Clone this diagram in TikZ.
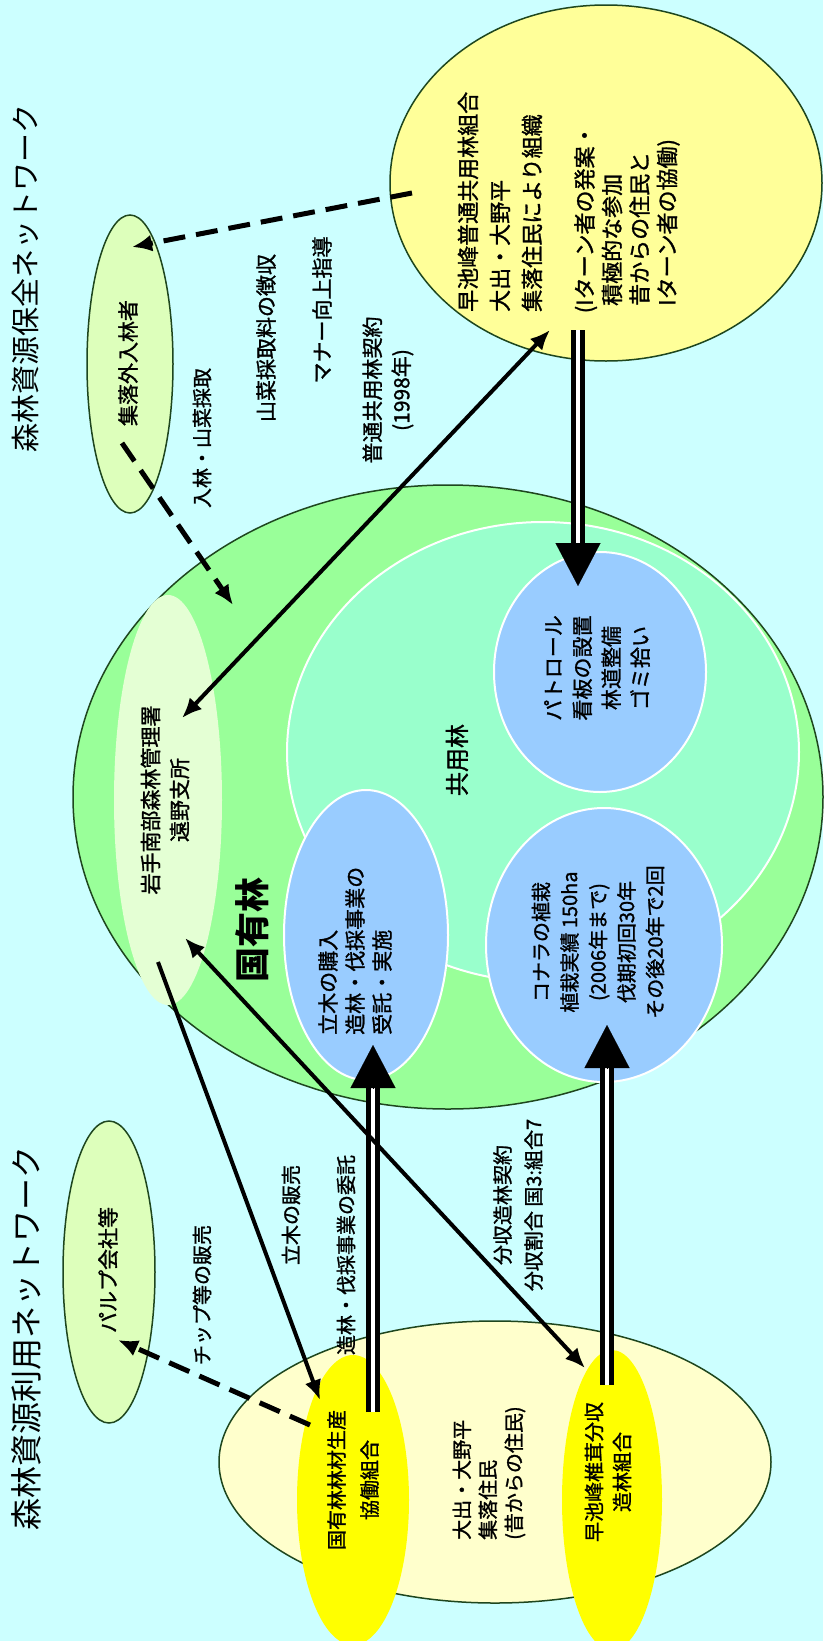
\documentclass[tikz,border=0pt]{standalone}
\usepackage{fontspec}
\newfontfamily\jp[FakeBold=1.3]{Noto Sans CJK JP}
\newfontfamily\jpt{Noto Sans CJK JP}
\usetikzlibrary{shapes.geometric,arrows.meta}
\definecolor{bgc}{RGB}{204,255,255}
\definecolor{kokuc}{RGB}{153,255,153}
\definecolor{iwatec}{RGB}{228,255,212}
\definecolor{aquac}{RGB}{153,255,204}
\definecolor{bluec}{RGB}{153,204,255}
\definecolor{yelc}{RGB}{255,255,153}
\definecolor{palegc}{RGB}{221,255,187}
\definecolor{creamc}{RGB}{255,255,204}
\definecolor{brightyc}{RGB}{255,255,0}
\definecolor{edgec}{RGB}{30,70,30}
\begin{document}
\begin{tikzpicture}[x=1pt,y=-1pt,
  blob/.style={ellipse, inner sep=0pt, outer sep=0pt},
  rim/.style={draw=edgec, line width=1.5pt},
  wrim/.style={draw=white, line width=2pt},
  txt/.style={rotate=90, inner sep=0pt, text=black, font=\jp\fontsize{21}{29}\selectfont, align=center},
  small/.style={font=\jp\fontsize{20}{28}\selectfont},
  solidarrow/.style={line width=4pt, -{Latex[length=20pt,width=17pt]}},
  bothway/.style={line width=4pt, {Latex[length=20pt,width=17pt]}-{Latex[length=20pt,width=17pt]}},
  dasharrow/.style={line width=5pt, dash pattern=on 22pt off 11pt, -{Latex[length=20pt,width=17pt]}},
  doubleline/.style={line width=5pt, double=white, double distance=4pt},
  bighead/.style={line width=0.1pt, -{Triangle[length=43pt,width=45pt]}}
]
\fill[bgc] (0,0) rectangle (823,1641);
\useasboundingbox (0,0) rectangle (823,1641);

% shapes
\node[blob, fill=kokuc, rim, minimum width=750pt, minimum height=624pt] (koku) at (448,797) {};
\node[blob, fill=iwatec, minimum width=108pt, minimum height=410pt] (iwate) at (168,800) {};
\node[blob, fill=aquac, wrim, minimum width=512pt, minimum height=460pt] (kyoyo) at (543,752) {};
\node[blob, fill=bluec, wrim, minimum width=164pt, minimum height=290pt] (tachiki) at (366,935) {};
\node[blob, fill=bluec, wrim, minimum width=212pt, minimum height=240pt] (patrol) at (600,672) {};
\node[blob, fill=bluec, wrim, minimum width=236pt, minimum height=274pt] (konara) at (604,945) {};
\node[blob, fill=yelc, rim, minimum width=432pt, minimum height=356pt] (kumiai) at (606,183) {};
\node[blob, fill=palegc, rim, minimum width=86pt, minimum height=298pt] (nyurin) at (130,364) {};
\node[blob, fill=palegc, rim, minimum width=92pt, minimum height=302pt] (pulp) at (109,1272) {};
\node[blob, fill=creamc, rim, minimum width=552pt, minimum height=282pt] (shuraku) at (495,1462) {};
\node[blob, fill=brightyc, minimum width=112pt, minimum height=290pt] (kyodo) at (353,1500) {};
\node[blob, fill=brightyc, minimum width=100pt, minimum height=300pt] (shiitake) at (612,1500) {};

% titles
\node[txt, font=\jpt\fontsize{29}{34}\selectfont] (t1) at (25,278) {森林資源保全ネットワーク};
\node[txt, font=\jpt\fontsize{32}{36}\selectfont] (t2) at (26,1338) {森林資源利用ネットワーク};

% texts
\node[txt] (nyurinT) at (128,363) {集落外入林者};
\node[txt] (pulpT) at (108,1270) {パルプ会社等};
\node[txt, small] (l1) at (202,438) {入林・山菜採取};
\node[txt] (l2) at (266,338) {山菜採取料の徴収};
\node[txt] (l3) at (322,310) {マナー向上指導};
\node[txt] (l4) at (388,390) {普通共用林契約\\(1998年)};
\node[txt, align=left, anchor=west, font=\jp\fontsize{22}{32}\selectfont] (kumiaiA) at (500,312) {早池峰普通共用林組合\\大出・大野平\\集落住民により組織};
\node[txt, align=left, anchor=west, font=\jp\fontsize{22}{27.5}\selectfont] (kumiaiB) at (627,306) {\llap{(}Iターン者の発案・\\積極的な参加\\昔からの住民と\\Iターン者の協働)};
\node[txt] (iwateT) at (165,800) {岩手南部森林管理署\\遠野支所};
\node[txt, font=\jpt\bfseries\fontsize{35}{40}\selectfont] (kokuT) at (252,930) {国有林};
\node[txt, font=\jp\fontsize{24}{30}\selectfont] (kyoyoT) at (457,760) {共用林};
\node[txt, align=left, anchor=west, font=\jp\fontsize{21}{27}\selectfont] (tachikiT) at (355,1035) {立木の購入\\造林・伐採事業の\\受託・実施};
\node[txt] (patrolT) at (597,668) {パトロール\\看板の設置\\林道整備\\ゴミ拾い};
\node[txt, font=\jp\fontsize{20}{28.5}\selectfont] (konaraT) at (598,942) {コナラの植栽\\植栽実績 150ha\\(2006年まで)\\伐期初回30年\\その後20年で2回};
\node[txt, small] (l5) at (202,1295) {チップ等の販売};
\node[txt, small] (l6) at (291,1215) {立木の販売};
\node[txt, small] (l7) at (346,1255) {造林・伐採事業の委託};
\node[txt, small, font=\jp\fontsize{20}{31}\selectfont] (l8) at (518,1205) {分収造林契約\\分収割合 国3:組合7};
\node[txt, small, font=\jp\fontsize{20}{33}\selectfont] (kyodoT) at (353,1480) {国有林林材生産\\協働組合};
\node[txt, small, align=left, anchor=west, font=\jp\fontsize{20}{26}\selectfont] (shurakuT) at (489,1540) {大出・大野平\\集落住民\\(昔からの住民)};
\node[txt, small, font=\jp\fontsize{20}{28}\selectfont] (shiitakeT) at (608,1472) {早池峰椎茸分収\\造林組合};

% connector end points
\coordinate (c1s) at (412,193); \coordinate (c1e) at (132,247);
\coordinate (c2s) at (122,443); \coordinate (c2e) at (233,605);
\coordinate (c3s) at (182,718); \coordinate (c3e) at (550,330);
\coordinate (c4s) at (578,330); \coordinate (c4b) at (578,543); \coordinate (c4t) at (578,586);
\coordinate (c5s) at (373,1412); \coordinate (c5b) at (373,1088); \coordinate (c5t) at (373,1045);
\coordinate (c6s) at (607,1385); \coordinate (c6b) at (607,1068); \coordinate (c6t) at (607,1025);
\coordinate (c7s) at (158,962); \coordinate (c7e) at (320,1400);
\coordinate (c8s) at (185,938); \coordinate (c8e) at (585,1368);
\coordinate (c9s) at (310,1425); \coordinate (c9e) at (118,1340);

\draw[dasharrow] (c1s) -- (c1e);
\draw[dasharrow] (c2s) -- (c2e);
\draw[bothway] (c3s) -- (c3e);
\draw[doubleline] (c4s) -- (c4b);
\draw[bighead] (c4b) -- (c4t);
\draw[doubleline] (c5s) -- (c5b);
\draw[bighead] (c5b) -- (c5t);
\draw[doubleline] (c6s) -- (c6b);
\draw[bighead] (c6b) -- (c6t);
\draw[solidarrow] (c7s) -- (c7e);
\draw[bothway] (c8s) -- (c8e);
\draw[dasharrow] (c9s) -- (c9e);
\end{tikzpicture}
\end{document}
